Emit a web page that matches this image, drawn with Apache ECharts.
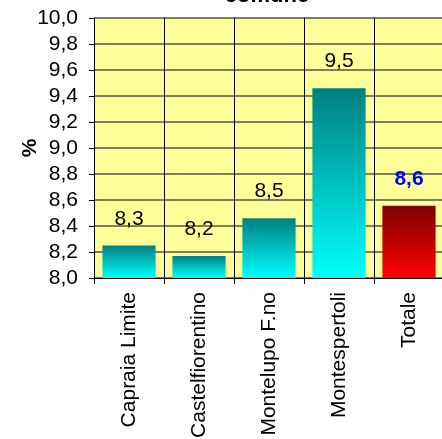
<!DOCTYPE html>
<html>
<head>
<meta charset="utf-8">
<script src="https://cdn.jsdelivr.net/npm/echarts@6/dist/echarts.min.js"></script>
<style>
  html, body { margin: 0; padding: 0; background: #fff; }
  #main { width: 442px; height: 439px; }
</style>
</head>
<body>
<div id="main"></div>
<script>
// dati
var categories = ['Capraia Limite', 'Castelfiorentino', 'Montelupo F.no', 'Montespertoli', 'Totale'];
var values = [8.25, 8.17, 8.46, 9.46, 8.555];
var yTicks = [8.0, 8.2, 8.4, 8.6, 8.8, 9.0, 9.2, 9.4, 9.6, 9.8, 10.0];

var font = 'Liberation Sans, Arial, sans-serif';

function fmt(v) {
  return v.toFixed(1).replace('.', ',');
}

function grad(top, bottom) {
  return new echarts.graphic.LinearGradient(0, 0, 0, 1, [
    { offset: 0, color: top },
    { offset: 1, color: bottom }
  ]);
}

var chart = echarts.init(document.getElementById('main'));

var seriesData = values.map(function (v, i) {
  var isTot = i === values.length - 1;
  return {
    value: v,
    itemStyle: { color: isTot ? grad('#800000', '#ff0000') : grad('#008080', '#00ffff') },
    label: isTot ? { color: '#0000ff', fontWeight: 'bold' } : {}
  };
});

option = {
  animation: false,
  backgroundColor: '#ffffff',
  title: {
    text: 'comune',
    left: 262,
    top: -20,
    textAlign: 'center',
    textStyle: { fontFamily: font, fontSize: 22, fontWeight: 'bold', color: '#000' }
  },
  grid: {
    left: 94,
    right: -2,
    top: 18,
    bottom: 161,
    outerBoundsMode: 'none',
    containLabel: false,
    show: true,
    backgroundColor: '#ffff99',
    borderWidth: 0
  },
  xAxis: {
    type: 'category',
    data: categories,
    axisLine: { lineStyle: { color: '#000', width: 1 } },
    axisTick: { show: true, length: 6, lineStyle: { color: '#000' } },
    splitLine: { show: true, lineStyle: { color: '#000', width: 1 } },
    axisLabel: {
      rotate: 90,
      margin: 14,
      color: '#000',
      fontFamily: font,
      fontSize: 21,
      interval: 0
    }
  },
  yAxis: {
    type: 'value',
    min: yTicks[0],
    max: yTicks[yTicks.length - 1],
    interval: 0.2,
    name: '%',
    nameLocation: 'middle',
    nameGap: 53,
    nameMoveOverlap: false,
    nameTextStyle: { fontFamily: font, fontSize: 21, fontWeight: 'bold', color: '#000' },
    axisLine: { show: true, lineStyle: { color: '#000', width: 1 } },
    axisTick: { show: true, length: 5, lineStyle: { color: '#000' } },
    splitLine: { show: true, lineStyle: { color: '#7f7f55', width: 2 } },
    axisLabel: {
      margin: 16,
      color: '#000',
      fontFamily: font,
      fontSize: 21,
      formatter: function (v) { return fmt(v); }
    }
  },
  series: [
    {
      type: 'bar',
      data: seriesData,
      barCategoryGap: '24%',
      label: {
        show: true,
        position: 'top',
        distance: 16,
        color: '#000',
        fontFamily: font,
        fontSize: 21,
        formatter: function (p) { return fmt(p.value); }
      }
    }
  ]
};

chart.setOption(option);
</script>
</body>
</html>
